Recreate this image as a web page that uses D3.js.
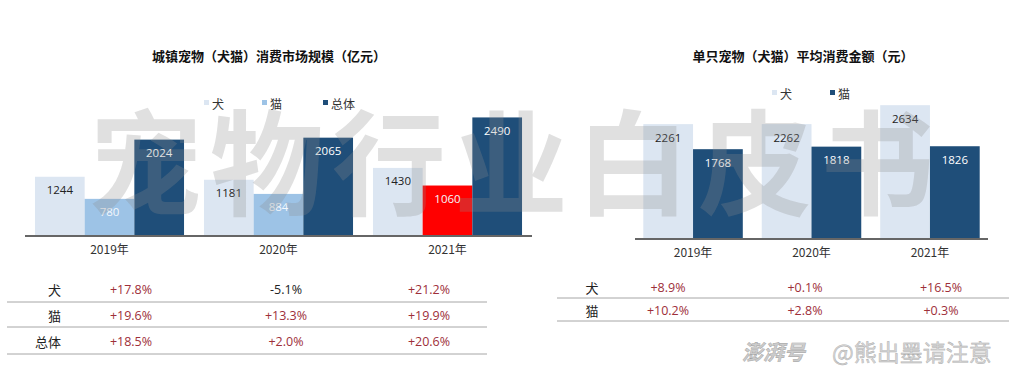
<!DOCTYPE html>
<html><head><meta charset="utf-8">
<script src="https://cdn.jsdelivr.net/npm/d3@7"></script>
<style>
html,body{margin:0;padding:0;background:#fff;}
svg{display:block;}
text{font-family:"Open Sans","Noto Sans CJK SC",sans-serif;}
.cjk{font-family:"Noto Sans CJK SC","Open Sans",sans-serif;}
</style></head>
<body>
<script>
// ---- data ----
const years = ["2019年","2020年","2021年"];
// left chart: market size (亿元)
const marketSeries = ["犬","猫","总体"];
const marketDog   = [1244, 1181, 1430];
const marketCat   = [780, 884, 1060];
const marketTotal = [2024, 2065, 2490];
const marketTitle = "城镇宠物（犬猫）消费市场规模（亿元）";
// left table: growth
const marketRows = ["犬","猫","总体"];
const growthDog   = ["+17.8%","-5.1%","+21.2%"];
const growthCat   = ["+19.6%","+13.3%","+19.9%"];
const growthTotal = ["+18.5%","+2.0%","+20.6%"];
// right chart: average spend per pet (元)
const spendSeries = ["犬","猫"];
const spendDog = [2261, 2262, 2634];
const spendCat = [1768, 1818, 1826];
const spendTitle = "单只宠物（犬猫）平均消费金额（元）";
const spendRows = ["犬","猫"];
const spendGrowthDog = ["+8.9%","+0.1%","+16.5%"];
const spendGrowthCat = ["+10.2%","+2.8%","+0.3%"];
const watermark = "宠物行业白皮书";
const sourceMark = ["澎湃号","@熊出墨请注意"];

const W = 1030, H = 371;
const svg = d3.select("body").append("svg").attr("width", W).attr("height", H);

const cDog = "#dce6f2", cCat = "#9dc3e6", cTotal = "#1f4e79", cRed = "#ff0000";
const posColor = "#9e2f3a";

function drawChart(opt){
  const g = svg.append("g");
  const x0 = d3.scaleBand().domain(years).range(opt.xr).paddingInner(opt.pin).paddingOuter(opt.pout);
  const x1 = d3.scaleBand().domain(opt.series).range([0, x0.bandwidth()]);
  const y = d3.scaleLinear().domain(opt.yd).range(opt.yr);
  // title
  g.append("text").attr("class","cjk").attr("x", opt.titleX).attr("y", opt.titleY)
    .attr("text-anchor","middle").attr("dominant-baseline","central")
    .attr("font-size",13).attr("font-weight",700).attr("fill","#111").text(opt.title);
  // legend
  opt.series.forEach((s,i)=>{
    const lx = opt.legendX[i];
    g.append("rect").attr("x", lx).attr("y", opt.legendY-3).attr("width",5).attr("height",5)
      .attr("fill", opt.colors[i]);
    g.append("text").attr("class","cjk").attr("x", lx+8).attr("y", opt.legendY)
      .attr("dominant-baseline","central").attr("font-size",12).attr("fill","#333").text(s);
  });
  // bars
  opt.series.forEach((s,i)=>{
    const vals = opt.values[i];
    years.forEach((yr,j)=>{
      const v = vals[j];
      const col = (opt.special && opt.special[0]===i && opt.special[1]===j) ? cRed : opt.colors[i];
      const bx = x0(yr) + x1(s);
      g.append("rect").attr("x", bx).attr("y", y(v)).attr("width", x1.bandwidth())
        .attr("height", y(0)-y(v)).attr("fill", col);
      g.append("text").attr("x", bx + x1.bandwidth()/2).attr("y", y(v)+13)
        .attr("text-anchor","middle").attr("dominant-baseline","central")
        .attr("font-size",11.5).attr("fill", opt.labelColors[i]).text(v);
    });
  });
  // axis
  const ax = g.append("g").attr("transform",`translate(0,${y(0)})`)
    .call(d3.axisBottom(x0).tickSize(0).tickPadding(9));
  ax.select(".domain").attr("stroke","#666").attr("stroke-width",2)
    .attr("d", `M${opt.xr[0]},0H${opt.xr[1]}`);
  ax.selectAll(".tick text").attr("class","cjk").attr("font-size",12).attr("fill","#333")
    .attr("font-family","Open Sans, Noto Sans CJK SC, sans-serif");
  return g;
}

drawChart({
  series: marketSeries, values:[marketDog, marketCat, marketTotal],
  colors:[cDog, cCat, cTotal], labelColors:["#222","#f4f8fc","#ffffff"],
  special:[1,2],
  xr:[25,532], pin:0.118, pout:0.059,
  yd:[0,2500], yr:[236, 236-2500/21],
  title: marketTitle, titleX:269, titleY:55,
  legendX:[204,262,323], legendY:103
});
drawChart({
  series: spendSeries, values:[spendDog, spendCat],
  colors:[cDog, cTotal], labelColors:["#222","#ffffff"],
  xr:[635,988], pin:0.16, pout:0.07,
  yd:[0,2700], yr:[239, 239-2700*0.0508],
  title: spendTitle, titleX:803, titleY:55,
  legendX:[772,830], legendY:93
});

// tables
function drawTable(opt){
  const g = svg.append("g");
  opt.rows.forEach((r,i)=>{
    const ry = opt.rowY[i];
    g.append("text").attr("class","cjk").attr("x", opt.labelX).attr("y", ry)
      .attr("text-anchor", opt.labelAnchor).attr("dominant-baseline","central")
      .attr("font-size",13).attr("fill","#222").text(r);
    opt.data[i].forEach((v,j)=>{
      g.append("text").attr("x", opt.colX[j]).attr("y", ry)
        .attr("text-anchor","middle").attr("dominant-baseline","central")
        .attr("font-size",12.5).attr("fill", v.startsWith("-") ? "#222" : posColor).text(v);
    });
  });
  opt.lineY.forEach(ly=>{
    g.append("line").attr("x1",opt.lineX[0]).attr("x2",opt.lineX[1]).attr("y1",ly).attr("y2",ly)
      .attr("stroke","#a6a6a6").attr("stroke-width",1);
  });
}
drawTable({rows: marketRows, data:[growthDog, growthCat, growthTotal],
  rowY:[289,315,341], labelX:61, labelAnchor:"end", colX:[131,286,429],
  lineY:[302,327,354], lineX:[7,487]});
drawTable({rows: spendRows, data:[spendGrowthDog, spendGrowthCat],
  rowY:[287,310], labelX:592, labelAnchor:"middle", colX:[668,805,941],
  lineY:[298,321], lineX:[557,1009]});

// watermark
svg.append("text").attr("class","cjk").attr("x", 88).attr("y", 156)
  .attr("dominant-baseline","central").attr("font-size",114).attr("font-weight",700)
  .attr("letter-spacing", 8).attr("fill","#8c8c8c").attr("fill-opacity",0.27).text(watermark);

// source mark
svg.append("text").attr("class","cjk").attr("x", 742).attr("y", 351)
  .attr("dominant-baseline","central").attr("font-size",21).attr("font-weight",700)
  .attr("font-style","italic").attr("fill","#cccccc").attr("stroke","#a0a0a0").attr("stroke-width",0.4)
  .text(sourceMark[0]);
svg.append("text").attr("class","cjk").attr("x", 832).attr("y", 351)
  .attr("dominant-baseline","central").attr("font-size",23)
  .attr("fill","#d6d6d6").attr("stroke","#aaa").attr("stroke-width",0.4)
  .text(sourceMark[1]);
</script>
</body></html>
